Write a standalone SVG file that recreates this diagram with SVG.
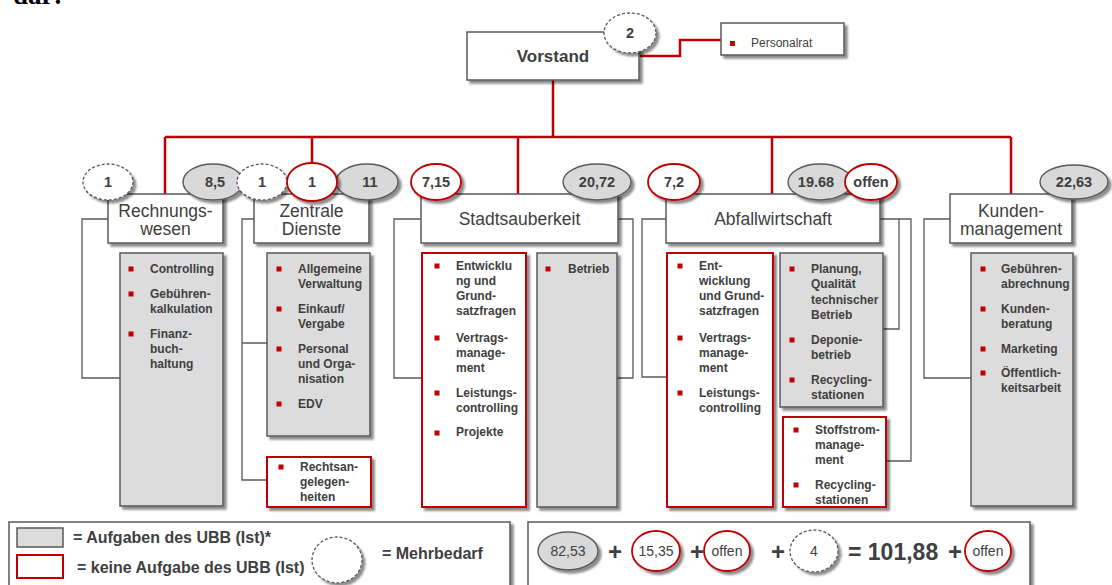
<svg xmlns="http://www.w3.org/2000/svg" width="1112" height="585" viewBox="0 0 1112 585">
  <defs>
    <filter id="sh" x="-10%" y="-10%" width="130%" height="130%">
      <feDropShadow dx="3" dy="3" stdDeviation="1.3" flood-color="#000" flood-opacity="0.45"/>
    </filter>
  </defs>
  <style>
    text { font-family: "Liberation Sans", Arial, sans-serif; fill: #404040; }
    .conn { fill: none; stroke: #C00000; stroke-width: 2.5; }
    .brk { fill: none; stroke: #595959; stroke-width: 1.3; }
    .hdr { fill: #fff; stroke: #595959; stroke-width: 1.5; filter: url(#sh); }
    .task { fill: #DCDCDC; stroke: #595959; stroke-width: 1.5; filter: url(#sh); }
    .ext { fill: #fff; stroke: #C00000; stroke-width: 2; filter: url(#sh); }
    .eg { fill: #D9D9D9; stroke: #595959; stroke-width: 1.4; filter: url(#sh); }
    .er { fill: #fff; stroke: #C00000; stroke-width: 1.8; filter: url(#sh); }
    .ed { fill: #fff; stroke: #595959; stroke-width: 1.3; stroke-dasharray: 3 2; filter: url(#sh); }
    .ht { font-size: 17.5px; text-anchor: middle; }
    .it { font-size: 12px; font-weight: bold; }
    .num { font-size: 14.5px; font-weight: bold; text-anchor: middle; }
    .lnum { font-size: 14px; text-anchor: middle; }
    .leg { font-size: 16px; font-weight: bold; }
    .big { font-size: 24px; font-weight: bold; text-anchor: middle; }
    .bul { fill: #C00000; }
    .frame { fill: #fff; stroke: #595959; stroke-width: 1.5; filter: url(#sh); }
  </style>

  <!-- running text of the page above the chart -->
  <text x="13" y="4" style="font-family:'Liberation Serif',serif;font-size:27px;font-weight:bold;fill:#000">dar:</text>

  <!-- connectors -->
  <g id="connectors">
    <path class="conn" d="M553,80 V137 M165,137 H1011 M165,137 V194 M312,137 V164 M518,137 V194 M772,137 V194 M1011,137 V194"/>
    <path class="conn" d="M640,56 H680 V40 H721"/>
    <path class="brk" d="M108,219 H82 V378 H120"/>
    <path class="brk" d="M254,219 H242 V480 H267 M242,343 H267"/>
    <path class="brk" d="M421,219 H394 V378 H422 M618,219 H633 V378 H617"/>
    <path class="brk" d="M666,219 H642 V377 H667 M880,219 H911 V461 H886 M899,219 V329 H883"/>
    <path class="brk" d="M950,219 H924 V378 H971"/>
  </g>

  <!-- board -->
  <g id="vorstand">
    <rect class="hdr" x="467" y="32" width="172" height="48"/>
    <text x="553" y="62" style="font-size:17px;font-weight:bold;text-anchor:middle">Vorstand</text>
    <ellipse class="ed" cx="630" cy="33" rx="26" ry="20"/>
    <text class="num" x="630" y="38">2</text>
  </g>

  <g id="personalrat">
    <rect class="hdr" x="721" y="23" width="123" height="32"/>
    <rect class="bul" x="730" y="41" width="5" height="5"/>
    <text x="751" y="47" style="font-size:12px">Personalrat</text>
  </g>

  <!-- Rechnungswesen -->
  <g id="rechnungswesen">
    <rect class="task" x="120" y="253" width="103" height="253"/>
    <rect class="bul" x="128.5" y="266.5" width="5" height="5"/>
    <rect class="bul" x="128.5" y="291.5" width="5" height="5"/>
    <rect class="bul" x="128.5" y="331.5" width="5" height="5"/>
    <text class="it" x="150" y="272.5">Controlling</text>
    <text class="it" x="150" y="297.5">Gebühren-</text>
    <text class="it" x="150" y="312.5">kalkulation</text>
    <text class="it" x="150" y="337.5">Finanz-</text>
    <text class="it" x="150" y="352.5">buch-</text>
    <text class="it" x="150" y="367.5">haltung</text>
    <rect class="hdr" x="108" y="194" width="115" height="49"/>
    <text class="ht" x="165.5" y="217">Rechnungs-</text>
    <text class="ht" x="165.5" y="235">wesen</text>
    <ellipse class="eg" cx="213" cy="182" rx="30" ry="18"/>
    <text class="num" x="215" y="187">8,5</text>
    <ellipse class="ed" cx="108" cy="182" rx="25" ry="18"/>
    <text class="num" x="108" y="187">1</text>
  </g>

  <!-- Zentrale Dienste -->
  <g id="zentrale-dienste">
    <rect class="task" x="267" y="253" width="103" height="183"/>
    <rect class="bul" x="276.5" y="266.5" width="5" height="5"/>
    <rect class="bul" x="276.5" y="306.5" width="5" height="5"/>
    <rect class="bul" x="276.5" y="346.5" width="5" height="5"/>
    <rect class="bul" x="276.5" y="401.5" width="5" height="5"/>
    <text class="it" x="298" y="272.5">Allgemeine</text>
    <text class="it" x="298" y="287.5">Verwaltung</text>
    <text class="it" x="298" y="313">Einkauf/</text>
    <text class="it" x="298" y="328">Vergabe</text>
    <text class="it" x="298" y="352.5">Personal</text>
    <text class="it" x="298" y="367.5">und Orga-</text>
    <text class="it" x="298" y="382.5">nisation</text>
    <text class="it" x="298" y="407.5">EDV</text>
    <rect class="ext" x="267" y="457" width="104" height="50"/>
    <rect class="bul" x="278.5" y="464.5" width="5" height="5"/>
    <text class="it" x="300" y="471">Rechtsan-</text>
    <text class="it" x="300" y="486">gelegen-</text>
    <text class="it" x="300" y="501">heiten</text>
    <rect class="hdr" x="254" y="194" width="115" height="49"/>
    <text class="ht" x="311.5" y="217">Zentrale</text>
    <text class="ht" x="311.5" y="235">Dienste</text>
    <ellipse class="eg" cx="367" cy="182" rx="31" ry="18"/>
    <text class="num" x="370" y="187">11</text>
    <ellipse class="ed" cx="262" cy="182" rx="25" ry="18"/>
    <text class="num" x="262" y="187">1</text>
    <ellipse class="er" cx="312" cy="182" rx="25" ry="19"/>
    <text class="num" x="312" y="187">1</text>
  </g>

  <!-- Stadtsauberkeit -->
  <g id="stadtsauberkeit">
    <rect class="ext" x="422" y="253" width="104" height="254"/>
    <rect class="bul" x="434.5" y="263.5" width="5" height="5"/>
    <rect class="bul" x="434.5" y="335.5" width="5" height="5"/>
    <rect class="bul" x="434.5" y="390.5" width="5" height="5"/>
    <rect class="bul" x="434.5" y="430.5" width="5" height="5"/>
    <text class="it" x="456" y="270">Entwicklu</text>
    <text class="it" x="456" y="285">ng und</text>
    <text class="it" x="456" y="300">Grund-</text>
    <text class="it" x="456" y="315">satzfragen</text>
    <text class="it" x="456" y="342">Vertrags-</text>
    <text class="it" x="456" y="357">manage-</text>
    <text class="it" x="456" y="372">ment</text>
    <text class="it" x="456" y="397">Leistungs-</text>
    <text class="it" x="456" y="412">controlling</text>
    <text class="it" x="456" y="436">Projekte</text>
    <rect class="task" x="537" y="253" width="80" height="254"/>
    <rect class="bul" x="545.5" y="266.5" width="5" height="5"/>
    <text class="it" x="568" y="273">Betrieb</text>
    <rect class="hdr" x="421" y="194" width="197" height="49"/>
    <text class="ht" x="519.5" y="225">Stadtsauberkeit</text>
    <ellipse class="er" cx="436" cy="182" rx="25" ry="18"/>
    <text class="num" x="436" y="187">7,15</text>
    <ellipse class="eg" cx="597" cy="182" rx="34" ry="18"/>
    <text class="num" x="597" y="187">20,72</text>
  </g>

  <!-- Abfallwirtschaft -->
  <g id="abfallwirtschaft">
    <rect class="ext" x="667" y="253" width="106" height="254"/>
    <rect class="bul" x="677.5" y="263.5" width="5" height="5"/>
    <rect class="bul" x="677.5" y="335.5" width="5" height="5"/>
    <rect class="bul" x="677.5" y="390.5" width="5" height="5"/>
    <text class="it" x="699" y="270">Ent-</text>
    <text class="it" x="699" y="285">wicklung</text>
    <text class="it" x="699" y="300">und Grund-</text>
    <text class="it" x="699" y="315">satzfragen</text>
    <text class="it" x="699" y="342">Vertrags-</text>
    <text class="it" x="699" y="357">manage-</text>
    <text class="it" x="699" y="372">ment</text>
    <text class="it" x="699" y="397">Leistungs-</text>
    <text class="it" x="699" y="412">controlling</text>
    <rect class="task" x="780" y="253" width="103" height="154"/>
    <rect class="bul" x="789.5" y="266.5" width="5" height="5"/>
    <rect class="bul" x="789.5" y="337.5" width="5" height="5"/>
    <rect class="bul" x="789.5" y="377.5" width="5" height="5"/>
    <text class="it" x="811" y="273">Planung,</text>
    <text class="it" x="811" y="288">Qualität</text>
    <text class="it" x="811" y="304">technischer</text>
    <text class="it" x="811" y="319">Betrieb</text>
    <text class="it" x="811" y="344">Deponie-</text>
    <text class="it" x="811" y="359">betrieb</text>
    <text class="it" x="811" y="384">Recycling-</text>
    <text class="it" x="811" y="399">stationen</text>
    <rect class="ext" x="783" y="417" width="103" height="90"/>
    <rect class="bul" x="793.5" y="427.5" width="5" height="5"/>
    <rect class="bul" x="793.5" y="482.5" width="5" height="5"/>
    <text class="it" x="815" y="434">Stoffstrom-</text>
    <text class="it" x="815" y="449">manage-</text>
    <text class="it" x="815" y="464">ment</text>
    <text class="it" x="815" y="489">Recycling-</text>
    <text class="it" x="815" y="504">stationen</text>
    <rect class="hdr" x="666" y="194" width="214" height="49"/>
    <text class="ht" x="773" y="225">Abfallwirtschaft</text>
    <ellipse class="er" cx="674" cy="182" rx="26" ry="18"/>
    <text class="num" x="674" y="187">7,2</text>
    <ellipse class="eg" cx="820" cy="182" rx="32" ry="18"/>
    <text class="num" x="816" y="187">19.68</text>
    <ellipse class="er" cx="871" cy="182" rx="26" ry="18"/>
    <text class="num" x="871" y="187">offen</text>
  </g>

  <!-- Kundenmanagement -->
  <g id="kundenmanagement">
    <rect class="task" x="971" y="253" width="102" height="253"/>
    <rect class="bul" x="980.5" y="266.5" width="5" height="5"/>
    <rect class="bul" x="980.5" y="306.5" width="5" height="5"/>
    <rect class="bul" x="980.5" y="346.5" width="5" height="5"/>
    <rect class="bul" x="980.5" y="370.5" width="5" height="5"/>
    <text class="it" x="1001" y="273">Gebühren-</text>
    <text class="it" x="1001" y="288">abrechnung</text>
    <text class="it" x="1001" y="313">Kunden-</text>
    <text class="it" x="1001" y="328">beratung</text>
    <text class="it" x="1001" y="352.5">Marketing</text>
    <text class="it" x="1001" y="377">Öffentlich-</text>
    <text class="it" x="1001" y="392">keitsarbeit</text>
    <rect class="hdr" x="950" y="194" width="122" height="49"/>
    <text class="ht" x="1011" y="217">Kunden-</text>
    <text class="ht" x="1011" y="235">management</text>
    <ellipse class="eg" cx="1074" cy="182" rx="34" ry="17"/>
    <text class="num" x="1074" y="187">22,63</text>
  </g>

  <!-- key -->
  <g id="legend">
    <rect class="frame" x="9" y="522" width="501" height="80"/>
    <rect class="task" x="17" y="528" width="46" height="19" style="filter:none"/>
    <text class="leg" x="73" y="543">= Aufgaben des UBB (Ist)*</text>
    <rect class="ext" x="17" y="555" width="46" height="23" style="filter:none"/>
    <text class="leg" x="77" y="573">= keine Aufgabe des UBB (Ist)</text>
    <ellipse class="ed" cx="337" cy="560" rx="25" ry="23"/>
    <text class="leg" x="382" y="559">= Mehrbedarf</text>
  </g>

  <!-- staff totals -->
  <g id="summary">
    <rect class="frame" x="528" y="522" width="502" height="80"/>
    <ellipse class="eg" cx="568" cy="551" rx="30" ry="19"/>
    <text class="lnum" x="568" y="556">82,53</text>
    <text class="big" x="615" y="560">+</text>
    <ellipse class="er" cx="656" cy="551" rx="24" ry="20"/>
    <text class="lnum" x="656" y="556">15,35</text>
    <text class="big" x="697" y="560">+</text>
    <ellipse class="er" cx="727" cy="551" rx="23" ry="20"/>
    <text class="lnum" x="727" y="556">offen</text>
    <text class="big" x="778" y="560">+</text>
    <ellipse class="ed" cx="814" cy="551" rx="24" ry="21"/>
    <text class="lnum" x="814" y="556">4</text>
    <text x="848" y="560" style="font-size:23px;font-weight:bold">= 101,88</text>
    <text class="big" x="955" y="560">+</text>
    <ellipse class="er" cx="988" cy="551" rx="23" ry="20"/>
    <text class="lnum" x="988" y="556">offen</text>
  </g>
</svg>
